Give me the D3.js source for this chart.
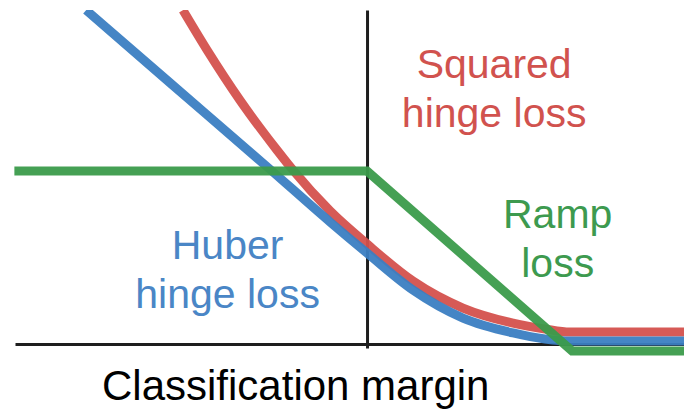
<!DOCTYPE html>
<html lang="en">
<head>
  <meta charset="UTF-8">
  <title>Hinge losses</title>
  <style>
    body { margin: 0; background: #fff; }
    svg { display: block; }
    text { font-family: "Liberation Sans", Arial, sans-serif; }
  </style>
</head>
<body>
  <svg></svg>
  <script src="https://d3js.org/d3.v7.min.js"></script>
  <script>
    // margin vs loss
    var huberX = [-1.37, -0.96, -0.48, -0.18, 0, 0.224, 0.468, 0.712, 0.868, 0.99, 1.55];
    var huberY = [1.93, 1.509, 1.017, 0.705, 0.526, 0.312, 0.150, 0.064, 0.029, 0.017, 0.017];

    var squaredX = [-0.898, -0.78, -0.62, -0.439, -0.366, -0.18, 0, 0.224, 0.468, 0.712, 0.868, 0.99, 1.55];
    var squaredY = [1.93, 1.699, 1.41, 1.121, 1.012, 0.769, 0.578, 0.364, 0.208, 0.121, 0.087, 0.069, 0.069];

    var rampX = [-1.72, 0, 1, 1.55];
    var rampY = [1, 1, -0.04, -0.04];

    var labels = [
      { lines: ["Squared", "hinge loss"], m: 0.62, v: 1.54, color: "#d1524e" },
      { lines: ["Huber", "hinge loss"], m: -0.68, v: 0.49, color: "#4a86c6" },
      { lines: ["Ramp", "loss"], m: 0.93, v: 0.67, color: "#3d9a4f" }
    ];
    var xTitle = "Classification margin";

    var width = 684;
    var height = 409;

    var x = d3.scaleLinear().domain([-1.717, 1.546]).range([15, 684]);
    var y = d3.scaleLinear().domain([-0.023, 1.931]).range([348, 10]);

    var svg = d3.select("svg")
        .attr("width", width)
        .attr("height", height);

    svg.append("clipPath").attr("id", "plot")
      .append("rect")
        .attr("x", 0).attr("y", 10)
        .attr("width", width).attr("height", 350);

    // axes: plain lines, no ticks
    svg.append("g")
        .attr("transform", "translate(0," + y(0) + ")")
        .call(d3.axisBottom(x).tickValues([]).tickSizeOuter(0))
      .select(".domain")
        .attr("stroke", "#1e1e1e")
        .attr("stroke-width", 3);

    svg.append("g")
        .attr("transform", "translate(" + x(0) + ",0)")
        .call(d3.axisLeft(y).tickValues([]).tickSizeOuter(0))
      .select(".domain")
        .attr("stroke", "#1e1e1e")
        .attr("stroke-width", 3);

    var series = [
      { xs: squaredX, ys: squaredY, color: "#d4514d", curve: d3.curveMonotoneX },
      { xs: huberX, ys: huberY, color: "#3b7ec2", curve: d3.curveMonotoneX },
      { xs: rampX, ys: rampY, color: "#3b9b4b", curve: d3.curveLinear }
    ];

    svg.append("g")
        .attr("clip-path", "url(#plot)")
      .selectAll("path")
      .data(series)
      .enter()
      .append("path")
        .attr("fill", "none")
        .attr("stroke", d => d.color)
        .attr("stroke-width", 9)
        .attr("stroke-opacity", 0.95)
        .attr("stroke-linejoin", "miter")
        .attr("d", d => d3.line()
            .x(i => x(d.xs[i]))
            .y(i => y(d.ys[i]))
            .curve(d.curve)(d3.range(d.xs.length)));

    var lab = svg.selectAll(".label")
      .data(labels)
      .enter()
      .append("text")
        .attr("class", "label")
        .attr("text-anchor", "middle")
        .attr("font-size", 41)
        .attr("fill", d => d.color)
        .attr("x", d => x(d.m))
        .attr("y", d => y(d.v));

    lab.selectAll("tspan")
      .data(d => d.lines.map(t => ({ t: t, m: d.m })))
      .enter()
      .append("tspan")
        .attr("x", d => x(d.m))
        .attr("dy", (d, i) => i ? 49 : 0)
        .text(d => d.t);

    svg.append("text")
        .attr("x", 102)
        .attr("y", 400)
        .attr("font-size", 42)
        .attr("fill", "#000")
        .text(xTitle);
  </script>
</body>
</html>
